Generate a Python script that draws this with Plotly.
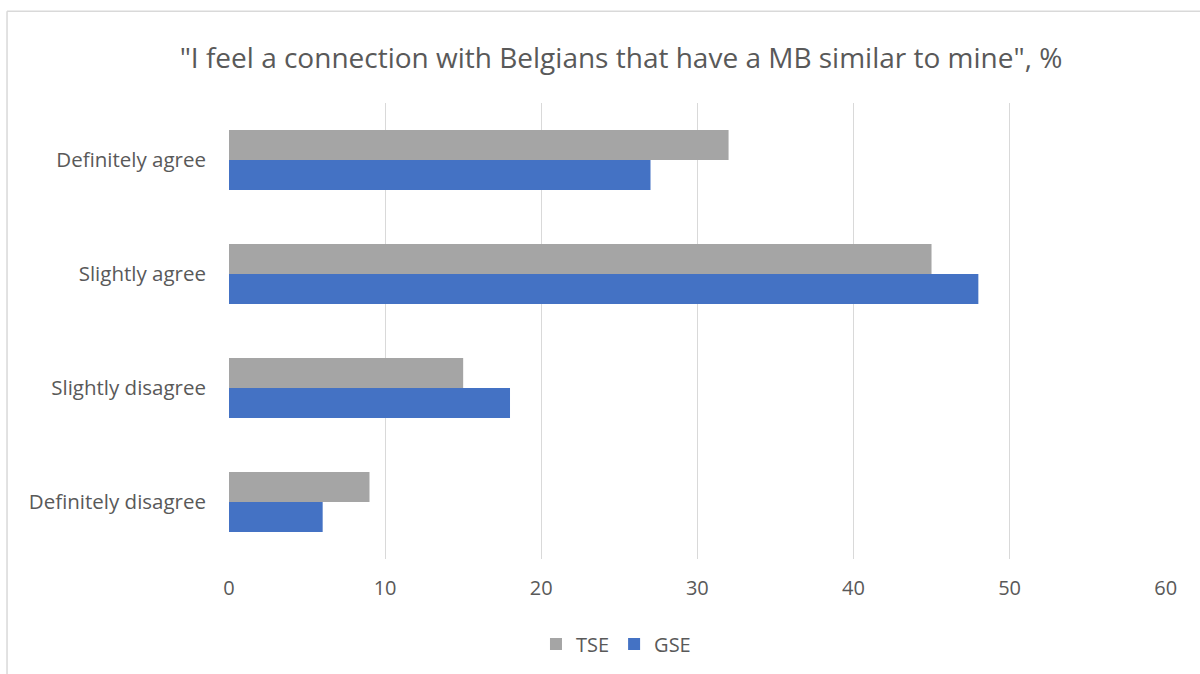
import plotly.graph_objects as go

# Survey responses, top to bottom
categories = ["Definitely agree", "Slightly agree", "Slightly disagree", "Definitely disagree"]
tse_values = [32, 45, 15, 9]
gse_values = [27, 48, 18, 6]
x_ticks = [0, 10, 20, 30, 40, 50, 60]

TEXT = "#595959"
GRID = "#d9d9d9"
FONT = "'Open Sans', sans-serif"

fig = go.Figure()
fig.add_trace(go.Bar(name="TSE", y=categories, x=tse_values, orientation="h",
                     marker=dict(color="#a5a5a5", line=dict(width=0))))
fig.add_trace(go.Bar(name="GSE", y=categories, x=gse_values, orientation="h",
                     marker=dict(color="#4472c4", line=dict(width=0))))

fig.update_layout(
    width=1200, height=674,
    margin=dict(l=229, r=34, t=103, b=114),
    paper_bgcolor="white", plot_bgcolor="white",
    barmode="group", bargap=0.475, bargroupgap=0,
    font=dict(family=FONT, color=TEXT, size=20),
    title=dict(text='"I feel a connection with Belgians that have a MB similar to mine", %',
               x=0.5175, xanchor="center", y=1 - 58 / 674, yanchor="middle",
               font=dict(size=28, color=TEXT, family=FONT)),
    legend=dict(orientation="h", x=0.413, xanchor="center", y=-0.184, yanchor="middle",
                font=dict(size=20, color=TEXT), itemwidth=30, traceorder="normal"),
    xaxis=dict(range=[0, 60.02], tickvals=x_ticks, showgrid=True, gridcolor=GRID, gridwidth=1.3,
               zeroline=False, showline=False, ticks="", ticklabelstandoff=15,
               tickfont=dict(size=20, color=TEXT)),
    yaxis=dict(autorange="reversed", showgrid=False, zeroline=False, showline=False,
               ticks="", ticklabelstandoff=22, tickfont=dict(size=20.5, color=TEXT)),
)

# Outer chart frame (left and top edges)
fig.add_shape(type="line", xref="paper", yref="paper", x0=-0.2369, x1=-0.2369, y0=1.2013, y1=-0.3,
              line=dict(color=GRID, width=1.5))
fig.add_shape(type="line", xref="paper", yref="paper", x0=-0.2369, x1=1.2, y0=1.2013, y1=1.2013,
              line=dict(color=GRID, width=1.5))

fig.write_html("out.html")
